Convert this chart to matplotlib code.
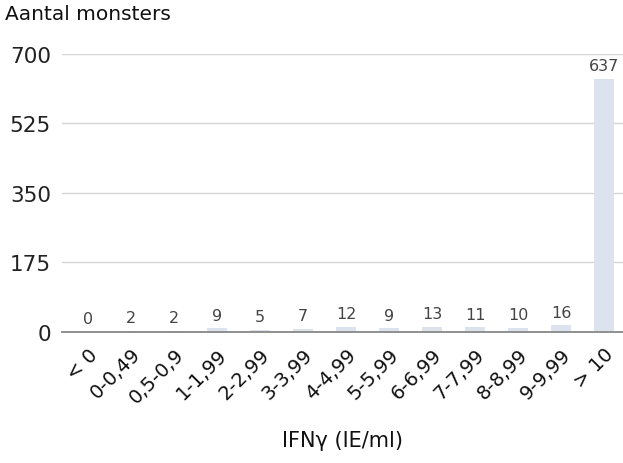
import matplotlib
matplotlib.use("Agg")
import matplotlib.pyplot as plt

# data
categories = ["< 0", "0-0,49", "0,5-0,9", "1-1,99", "2-2,99", "3-3,99", "4-4,99",
              "5-5,99", "6-6,99", "7-7,99", "8-8,99", "9-9,99", "> 10"]
counts = [0, 2, 2, 9, 5, 7, 12, 9, 13, 11, 10, 16, 637]
yticks = [0, 175, 350, 525, 700]

plt.rcParams['font.family'] = ['DejaVu Sans']

fig = plt.figure(figsize=(6.23, 4.64), dpi=100)
ax = fig.add_axes([0.0995, 0.2828, 0.9005, 0.5987])

x = list(range(len(categories)))
bars = ax.bar(x, counts, width=0.46, color="#dde3ee", zorder=2)

for xi, c in zip(x, counts):
    ax.annotate(str(c), (xi, c), xytext=(0, 4), textcoords="offset points",
                ha="center", va="bottom", fontsize=11.5, color="#444444",
                annotation_clip=False)

ax.set_ylim(0, 700)
ax.set_xlim(-0.605, 12.44)
ax.set_yticks(yticks)
ax.set_yticklabels([str(t) for t in yticks], fontsize=15.5, color="#222222")
ax.set_xticks(x)
ax.set_xticklabels(categories, rotation=45, ha="right", rotation_mode="anchor",
                   fontsize=14, color="#111111")
ax.tick_params(axis="both", length=0)
ax.tick_params(axis="y", pad=8)
ax.tick_params(axis="x", pad=9)

ax.grid(axis="y", color="#d6d6d6", linewidth=1, zorder=0)
for s in ["top", "right", "left"]:
    ax.spines[s].set_visible(False)
ax.spines["bottom"].set_color("#888888")
ax.spines["bottom"].set_linewidth(1.3)
ax.spines["bottom"].set_zorder(3)

fig.text(0.008, 0.968, "Aantal monsters", fontsize=14.5, ha="left", va="center", color="#111111")
fig.text(0.550, 0.050, "IFN\u03b3 (IE/ml)", fontsize=15, ha="center", va="center", color="#111111")

fig.savefig("out.png", dpi=100)
